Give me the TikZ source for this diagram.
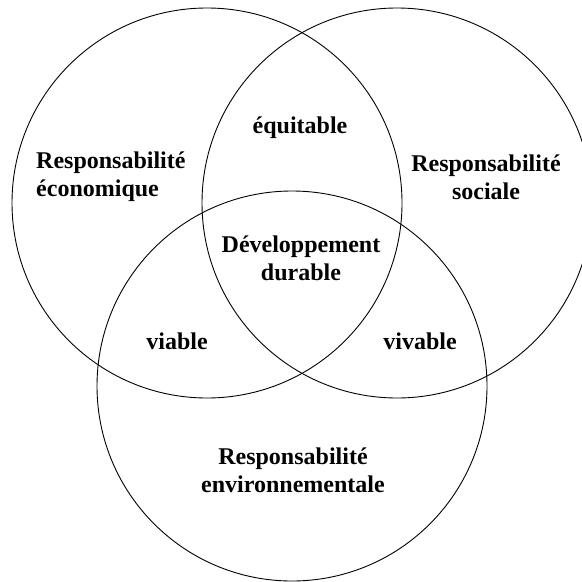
\documentclass[tikz,border=0pt]{standalone}
\usepackage{fontspec}
\setmainfont{Liberation Serif}
\begin{document}
\begin{tikzpicture}[x=1bp,y=-1bp,
  ring/.style={draw=black,line width=0.9bp},
  lbl/.style={font=\fontsize{24bp}{28bp}\selectfont\bfseries,inner sep=0pt,align=center}]
\useasboundingbox (0,0) rectangle (582,582);
\clip (0,0) rectangle (582,582);
% the three responsibility circles
\draw[ring] (207,203) circle[radius=195];
\draw[ring] (397,203) circle[radius=195];
\draw[ring] (292,386) circle[radius=195];
% labels
\node[lbl,align=left,anchor=west] (eco) at (36,177) {Responsabilité\\économique};
\node[lbl] (soc) at (486,177) {Responsabilité\\sociale};
\node[lbl] (equ) at (300,128) {équitable};
\node[lbl] (dd) at (301,258) {Développement\\durable};
\node[lbl] (via) at (177,341) {viable};
\node[lbl] (viv) at (420,341) {vivable};
\node[lbl] (env) at (293,470) {Responsabilité\\environnementale};
\end{tikzpicture}
\end{document}
